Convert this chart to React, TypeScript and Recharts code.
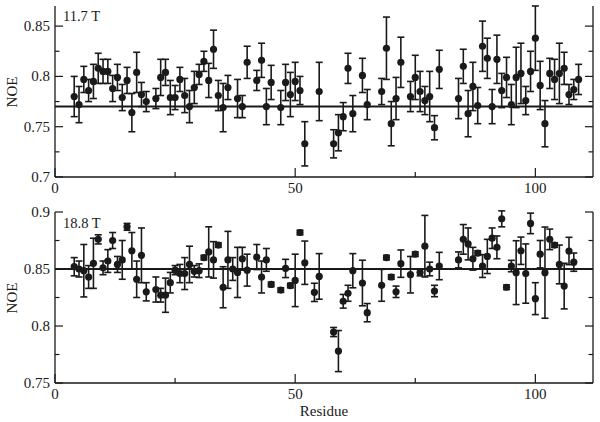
import { ScatterChart, Scatter, XAxis, YAxis, ErrorBar, ReferenceLine } from "recharts";

const FONT = '"Liberation Serif", "Times New Roman", "DejaVu Serif", serif';
const INK = "#1a1a1a";

// 11.7 T field
const residues11 = [
  4, 5, 6, 7, 8, 9, 10, 11, 12, 13, 14, 15, 16, 17, 18, 19, 21, 22, 23, 24, 25, 26, 27, 28, 29, 30,
  31, 32, 33, 34, 35, 36, 38, 39, 40, 42, 43, 44, 45, 47, 48, 49, 50, 51, 52, 55, 58, 59, 60, 61, 62,
  64, 65, 68, 69, 70, 71, 72, 74, 75, 76, 77, 78, 79, 80, 84, 85, 86, 87, 88, 89, 90, 91, 92, 93, 94,
  95, 96, 97, 98, 99, 100, 101, 102, 103, 104, 105, 106, 107, 108, 109,
];
const noe11 = [
  0.78, 0.772, 0.797, 0.786, 0.795, 0.808, 0.805, 0.805, 0.788, 0.799, 0.779, 0.796, 0.764, 0.804,
  0.782, 0.775, 0.778, 0.799, 0.804, 0.779, 0.779, 0.797, 0.781, 0.77, 0.789, 0.802, 0.815, 0.796,
  0.827, 0.781, 0.769, 0.789, 0.778, 0.77, 0.814, 0.796, 0.816, 0.77, 0.794, 0.769, 0.794, 0.782,
  0.795, 0.786, 0.733, 0.785, 0.733, 0.744, 0.76, 0.808, 0.763, 0.801, 0.772, 0.785, 0.828, 0.753,
  0.778, 0.814, 0.78, 0.799, 0.785, 0.776, 0.78, 0.749, 0.807, 0.778, 0.81, 0.763, 0.79, 0.771, 0.83,
  0.818, 0.77, 0.817, 0.786, 0.799, 0.772, 0.799, 0.803, 0.776, 0.805, 0.838, 0.791, 0.753, 0.803,
  0.797, 0.803, 0.808, 0.782, 0.787, 0.797,
];
const err11 = [
  0.02, 0.018, 0.013, 0.011, 0.017, 0.015, 0.012, 0.012, 0.013, 0.013, 0.013, 0.013, 0.019, 0.02,
  0.012, 0.01, 0.01, 0.018, 0.013, 0.017, 0.012, 0.012, 0.017, 0.016, 0.016, 0.01, 0.01, 0.017, 0.019,
  0.015, 0.024, 0.012, 0.019, 0.011, 0.016, 0.01, 0.017, 0.018, 0.017, 0.017, 0.018, 0.022, 0.019,
  0.014, 0.022, 0.029, 0.014, 0.018, 0.014, 0.015, 0.018, 0.017, 0.015, 0.013, 0.031, 0.022, 0.021,
  0.025, 0.015, 0.022, 0.02, 0.014, 0.025, 0.012, 0.019, 0.02, 0.017, 0.023, 0.024, 0.018, 0.025,
  0.02, 0.017, 0.024, 0.017, 0.02, 0.02, 0.03, 0.03, 0.014, 0.02, 0.032, 0.024, 0.023, 0.015, 0.02,
  0.03, 0.016, 0.01, 0.01, 0.015,
];

// 18.8 T field
const residues18 = [
  4, 5, 6, 7, 8, 9, 10, 11, 12, 13, 14, 15, 16, 17, 18, 19, 21, 22, 23, 24, 25, 26, 27, 28, 29, 30,
  31, 32, 33, 34, 35, 36, 37, 38, 39, 40, 42, 43, 44, 45, 47, 48, 49, 50, 51, 52, 54, 55, 58, 59, 60,
  61, 62, 64, 65, 68, 69, 70, 71, 72, 74, 75, 76, 77, 78, 79, 80, 84, 85, 86, 87, 88, 89, 90, 91, 92,
  93, 94, 95, 96, 97, 98, 99, 100, 101, 102, 103, 104, 105, 106, 107, 108,
];
const noe18 = [
  0.852, 0.85, 0.8485, 0.843, 0.855, 0.876, 0.851, 0.857, 0.875, 0.854, 0.858, 0.887, 0.866, 0.841,
  0.862, 0.83, 0.832, 0.827, 0.827, 0.838, 0.849, 0.846, 0.846, 0.854, 0.848, 0.8485, 0.86, 0.865,
  0.858, 0.871, 0.834, 0.858, 0.85, 0.847, 0.859, 0.849, 0.8605, 0.843, 0.858, 0.8365, 0.8315,
  0.8505, 0.8355, 0.84, 0.882, 0.8555, 0.8295, 0.8435, 0.7947, 0.778, 0.8217, 0.8287, 0.8485,
  0.8377, 0.8117, 0.8357, 0.86, 0.843, 0.83, 0.8547, 0.845, 0.863, 0.847, 0.87, 0.85, 0.8307, 0.8526,
  0.858, 0.876, 0.872, 0.859, 0.864, 0.8526, 0.861, 0.877, 0.869, 0.894, 0.834, 0.8526, 0.8468, 0.866,
  0.846, 0.89, 0.824, 0.863, 0.8468, 0.876, 0.871, 0.854, 0.835, 0.8658, 0.856,
];
const err18 = [
  0.008, 0.007, 0.023, 0.01, 0.022, 0.004, 0.006, 0.01, 0.007, 0.007, 0.017, 0.003, 0.016, 0.016,
  0.024, 0.008, 0.011, 0.006, 0.015, 0.009, 0.004, 0.008, 0.014, 0.016, 0.005, 0.006, 0.002, 0.022,
  0.016, 0.002, 0.018, 0.025, 0.01, 0.022, 0.01, 0.014, 0.011, 0.014, 0.01, 0.002, 0.002, 0.008, 0.002,
  0.023, 0.002, 0.019, 0.008, 0.02, 0.004, 0.018, 0.006, 0.007, 0.015, 0.02, 0.008, 0.014, 0.002,
  0.002, 0.005, 0.012, 0.016, 0.002, 0.003, 0.027, 0.006, 0.005, 0.012, 0.007, 0.013, 0.014, 0.01,
  0.002, 0.01, 0.015, 0.009, 0.01, 0.007, 0.002, 0.005, 0.028, 0.012, 0.026, 0.009, 0.014, 0.012, 0.04,
  0.009, 0.002, 0.017, 0.02, 0.012, 0.008,
];

const xTicks = [0, 25, 50, 75, 100];
const xMajors = [0, 50, 100];
const yTicks11 = [0.7, 0.725, 0.75, 0.775, 0.8, 0.825, 0.85];
const yMajors11 = [0.7, 0.75, 0.8, 0.85];
const yTicks18 = [0.75, 0.775, 0.8, 0.825, 0.85, 0.875, 0.9];
const yMajors18 = [0.75, 0.8, 0.85, 0.9];

const data11 = residues11.map((r, i) => ({ r, v: noe11[i], e: err11[i] }));
const data18 = residues18.map((r, i) => ({ r, v: noe18[i], e: err18[i] }));

const isMajor = (v: number, list: number[]) => list.some((m) => Math.abs(m - v) < 1e-6);

const textStyle = { fontFamily: FONT, fontSize: 15, fill: INK };

function BottomTick({ x, y, payload }: any) {
  const major = isMajor(payload.value, xMajors);
  return (
    <g>
      <line x1={x} x2={x} y1={y} y2={y - (major ? 9 : 5)} stroke={INK} strokeWidth={1.2} />
      {major && (
        <text x={x} y={y + 16} textAnchor="middle" style={textStyle}>
          {payload.value}
        </text>
      )}
    </g>
  );
}

function TopTick({ x, y, payload }: any) {
  const major = isMajor(payload.value, xMajors);
  return <line x1={x} x2={x} y1={y} y2={y + (major ? 7 : 4)} stroke={INK} strokeWidth={1.2} />;
}

function LeftTick({ x, y, payload, majors }: any) {
  const major = isMajor(payload.value, majors);
  return (
    <g>
      <line x1={x} x2={x + (major ? 8 : 4.5)} y1={y} y2={y} stroke={INK} strokeWidth={1.2} />
      {major && (
        <text x={x - 5} y={y + 5} textAnchor="end" style={textStyle}>
          {String(Math.round(payload.value * 1000) / 1000)}
        </text>
      )}
    </g>
  );
}

function RightTick({ x, y, payload, majors }: any) {
  const major = isMajor(payload.value, majors);
  return <line x1={x} x2={x - (major ? 8 : 4.5)} y1={y} y2={y} stroke={INK} strokeWidth={1.2} />;
}

const dot = (p: any) => <circle cx={p.cx} cy={p.cy} r={3.6} fill={INK} />;

function Panel({ data, yDomain, yTicks, yMajors, mean, height, top, xHeight }: any) {
  const axisLine = { stroke: INK, strokeWidth: 1.3 };
  return (
    <ScatterChart width={600} height={height} margin={{ top, right: 0, bottom: 0, left: 0 }}>
      <XAxis
        xAxisId="b"
        type="number"
        dataKey="r"
        domain={[0, 112]}
        ticks={xTicks}
        interval={0}
        allowDataOverflow
        height={xHeight}
        tickSize={0}
        tickMargin={0}
        tickLine={false}
        axisLine={axisLine}
        tick={(p: any) => <BottomTick {...p} />}
      />
      <XAxis
        xAxisId="t"
        orientation="top"
        type="number"
        domain={[0, 112]}
        ticks={xTicks}
        interval={0}
        allowDataOverflow
        height={0}
        tickSize={0}
        tickMargin={0}
        tickLine={false}
        axisLine={axisLine}
        tick={(p: any) => <TopTick {...p} />}
      />
      <YAxis
        yAxisId="l"
        type="number"
        dataKey="v"
        domain={yDomain}
        ticks={yTicks}
        interval={0}
        allowDataOverflow
        width={55}
        tickSize={0}
        tickMargin={0}
        tickLine={false}
        axisLine={axisLine}
        tick={(p: any) => <LeftTick {...p} majors={yMajors} />}
      />
      <YAxis
        yAxisId="r"
        orientation="right"
        type="number"
        domain={yDomain}
        ticks={yTicks}
        interval={0}
        allowDataOverflow
        width={7}
        tickSize={0}
        tickMargin={0}
        tickLine={false}
        axisLine={axisLine}
        tick={(p: any) => <RightTick {...p} majors={yMajors} />}
      />
      <ReferenceLine xAxisId="b" yAxisId="l" y={mean} stroke={INK} strokeWidth={2} />
      <Scatter
        xAxisId="b"
        yAxisId="l"
        data={data}
        fill={INK}
        shape={dot}
        isAnimationActive={false}
      >
        <ErrorBar
          dataKey="e"
          direction="y"
          width={3.5}
          stroke={INK}
          strokeWidth={1.6}
          isAnimationActive={false}
        />
      </Scatter>
    </ScatterChart>
  );
}

export default function App() {
  return (
    <div
      style={{
        position: "absolute",
        left: 0,
        top: 0,
        width: 600,
        height: 422,
        background: "#fff",
      }}
    >
      <Panel
        data={data11}
        yDomain={[0.7, 0.87]}
        yTicks={yTicks11}
        yMajors={yMajors11}
        mean={0.77}
        height={200}
        top={6}
        xHeight={23}
      />
      <Panel
        data={data18}
        yDomain={[0.75, 0.9]}
        yTicks={yTicks18}
        yMajors={yMajors18}
        mean={0.85}
        height={222}
        top={12}
        xHeight={39}
      />
      <svg
        width={600}
        height={422}
        style={{ position: "absolute", left: 0, top: 0, pointerEvents: "none" }}
      >
        <text x={63} y={21} style={{ ...textStyle, fontSize: 14.5 }}>
          11.7 T
        </text>
        <text x={63} y={227.5} style={{ ...textStyle, fontSize: 14.5 }}>
          18.8 T
        </text>
        <text x={17} y={92} textAnchor="middle" transform="rotate(-90 17 92)" style={textStyle}>
          NOE
        </text>
        <text x={17} y={298} textAnchor="middle" transform="rotate(-90 17 298)" style={textStyle}>
          NOE
        </text>
        <text x={324} y={416} textAnchor="middle" style={textStyle}>
          Residue
        </text>
      </svg>
    </div>
  );
}
